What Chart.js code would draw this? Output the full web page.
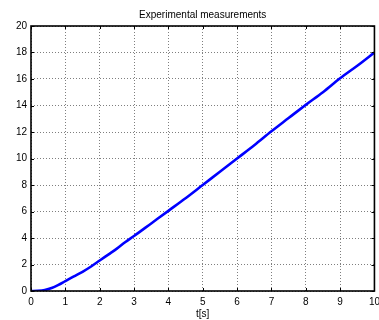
<!DOCTYPE html>
<html>
<head>
<meta charset="utf-8">
<script src="https://cdn.jsdelivr.net/npm/chart.js@4/dist/chart.umd.min.js"></script>
<style>
  html, body { margin: 0; padding: 0; background: #fff; overflow: hidden; }
  #wrap { position: absolute; left: 0; top: 0; width: 379px; height: 320px; overflow: hidden; }
  canvas { display: block; }
</style>
</head>
<body>
<div id="wrap"><canvas id="c" width="385" height="320"></canvas></div>
<script>
// Measured position over time
const times = [0, 0.2, 0.4, 0.6, 0.8, 1, 1.25, 1.5, 1.75, 2, 2.25, 2.5, 2.75, 3, 3.5, 4,
               4.5, 5, 5.5, 6, 6.5, 7, 7.5, 8, 8.5, 9, 9.5, 10];
const values = [0, 0.02, 0.08, 0.22, 0.46, 0.75, 1.1, 1.45, 1.85, 2.3, 2.75, 3.2, 3.7, 4.15, 5.1, 6.05,
                7.0, 8.0, 9.0, 10.0, 11.0, 12.05, 13.05, 14.05, 15.0, 16.05, 17.0, 18.0];
const xTicks = [0, 1, 2, 3, 4, 5, 6, 7, 8, 9, 10];
const yTicks = [0, 2, 4, 6, 8, 10, 12, 14, 16, 18, 20];

const titleText = 'Experimental measurements';
const xLabel = 't[s]';

const FONT = 'Arial, "Liberation Sans", Helvetica, sans-serif';

// Axes box with short inward tick marks on all four sides
const boxPlugin = {
  id: 'axesBox',
  afterDatasetsDraw(chart) {
    const { ctx, chartArea: a, scales } = chart;
    ctx.save();
    ctx.strokeStyle = '#000';
    ctx.lineWidth = 1;
    const len = 3;
    ctx.beginPath();
    xTicks.forEach(v => {
      const px = Math.round(scales.x.getPixelForValue(v)) + 0.5;
      ctx.moveTo(px, a.bottom); ctx.lineTo(px, a.bottom - len);
      ctx.moveTo(px, a.top); ctx.lineTo(px, a.top + len);
    });
    yTicks.forEach(v => {
      const py = Math.round(scales.y.getPixelForValue(v)) + 0.5;
      ctx.moveTo(a.left, py); ctx.lineTo(a.left + len, py);
      ctx.moveTo(a.right, py); ctx.lineTo(a.right - len, py);
    });
    ctx.stroke();
    ctx.lineWidth = 1.6;
    ctx.strokeRect(a.left, a.top, a.right - a.left, a.bottom - a.top);
    ctx.restore();
  }
};

new Chart(document.getElementById('c'), {
  type: 'line',
  data: {
    datasets: [{
      data: times.map((t, i) => ({ x: t, y: values[i] })),
      borderColor: '#0000ff',
      borderWidth: 2.6,
      pointRadius: 0,
      cubicInterpolationMode: 'monotone',
      fill: false
    }]
  },
  options: {
    responsive: false,
    animation: false,
    devicePixelRatio: 1,
    layout: { padding: { left: 0, right: 10, top: 0, bottom: 0 } },
    plugins: {
      legend: { display: false },
      tooltip: { enabled: false },
      title: {
        display: true,
        text: titleText,
        fullSize: false,
        color: '#000',
        font: { family: FONT, size: 10, weight: 'normal' },
        padding: { top: 9, bottom: 5 }
      }
    },
    scales: {
      x: {
        type: 'linear',
        min: 0, max: 10,
        afterBuildTicks: s => { s.ticks = xTicks.map(v => ({ value: v })); },
        afterFit: s => { s.height = 29; },
        ticks: { color: '#000', font: { family: FONT, size: 10 }, padding: 5, maxRotation: 0 },
        grid: { color: 'rgba(0,0,0,0.5)', drawTicks: false, tickLength: 0 },
        border: { display: false, dash: [1, 2] },
        title: {
          display: true, text: xLabel, color: '#000',
          font: { family: FONT, size: 10 }, padding: { top: 0, bottom: 0 }
        }
      },
      y: {
        min: 0, max: 20,
        afterBuildTicks: s => { s.ticks = yTicks.map(v => ({ value: v })); },
        afterFit: s => { s.width = 31; },
        ticks: { color: '#000', font: { family: FONT, size: 10 }, padding: 4 },
        grid: { color: 'rgba(0,0,0,0.5)', drawTicks: false, tickLength: 0 },
        border: { display: false, dash: [1, 2] }
      }
    }
  },
  plugins: [boxPlugin]
});
</script>
</body>
</html>
